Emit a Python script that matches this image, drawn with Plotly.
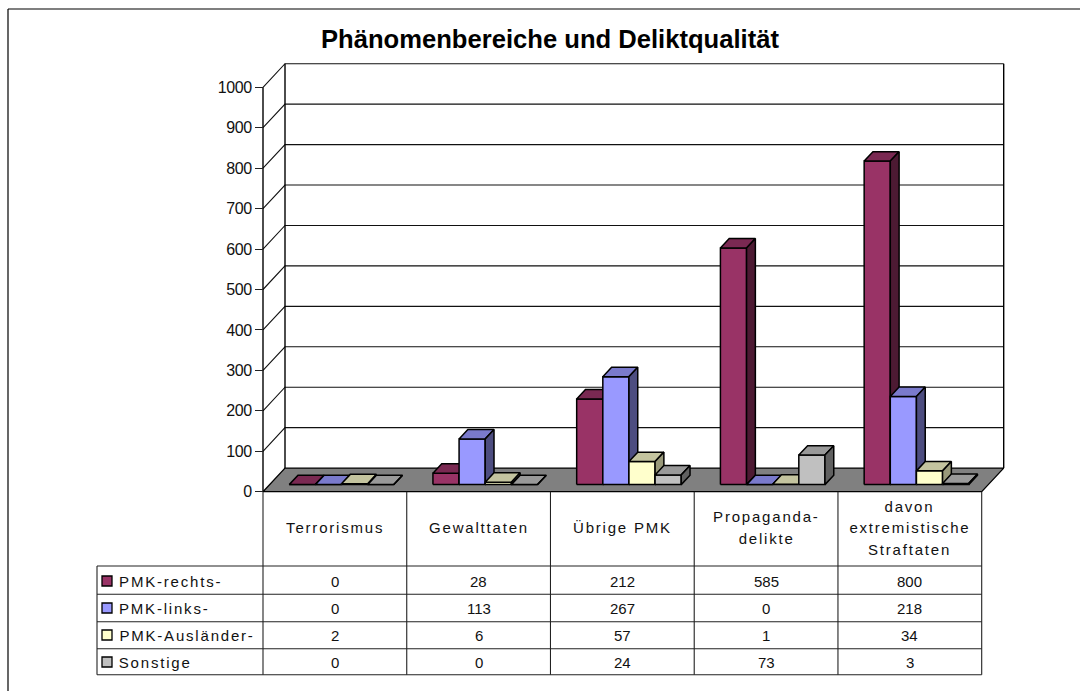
import plotly.graph_objects as go

# ---------- data ----------
categories = ["Terrorismus", "Gewalttaten", "Übrige PMK", "Propaganda-<br>delikte", "davon<br>extremistische<br>Straftaten"]
series_names = ["PMK-rechts-", "PMK-links-", "PMK-Ausländer-", "Sonstige"]
rechts = [0, 28, 212, 585, 800]
links = [0, 113, 267, 0, 218]
auslaender = [2, 6, 57, 1, 34]
sonstige = [0, 0, 24, 73, 3]
y_ticks = [0, 100, 200, 300, 400, 500, 600, 700, 800, 900, 1000]
title_text = "Phänomenbereiche und Deliktqualität"

series_values = [rechts, links, auslaender, sonstige]
front_colors = ["#993366", "#9999FF", "#FFFFCC", "#C0C0C0"]
top_colors = ["#7A2952", "#7A7ACC", "#C4C49F", "#999999"]
side_colors = ["#4D1A33", "#4D4D80", "#99997A", "#606060"]

# ---------- geometry of the page ----------
W, H = 1080, 691
X0, Y0 = 263.0, 491.7       # pixel of category 0, value 0
CAT_PX, VAL_PX = 143.74, 0.4044
DEPTH_X, DEPTH_Y = 22.0, 23.6
N = len(categories)
SPACING = 1.8

def project(cat, val, depth=0.0):
    return cat + depth * DEPTH_X / CAT_PX, val + depth * DEPTH_Y / VAL_PX

def px(x):
    return x / W

def py(y):
    return 1 - y / H

fig = go.Figure()

def poly(points, fill, name, line="#000000", width=1.5):
    xs = [p[0] for p in points] + [points[0][0]]
    ys = [p[1] for p in points] + [points[0][1]]
    fig.add_trace(go.Scatter(x=xs, y=ys, mode="lines", fill="toself", fillcolor=fill,
                             line=dict(color=line, width=width), name=name,
                             showlegend=False, hoverinfo="skip"))

def lines(segments, color, width, name):
    xs, ys = [], []
    for seg in segments:
        for p in seg:
            xs.append(p[0]); ys.append(p[1])
        xs.append(None); ys.append(None)
    fig.add_trace(go.Scatter(x=xs, y=ys, mode="lines", line=dict(color=color, width=width),
                             name=name, showlegend=False, hoverinfo="skip"))

# walls
top = y_ticks[-1]
lines([[project(0, v, 0), project(0, v, 1), project(N, v, 1)] for v in y_ticks[1:]], "#111111", 1.1, "grid")
lines([[project(0, 0, 0), project(0, top, 0)],
       [project(0, 0, 1), project(0, top, 1)],
       [project(N, 0, 1), project(N, top, 1)]], "#000000", 1.4, "walls")

# floor
poly([project(0, 0, 0), project(N, 0, 0), project(N, 0, 1), project(0, 0, 1)], "#808080", "floor", width=1.3)

# bars
D0, D1 = 0.30, 0.70
GAP = 1.5
BW = 1 / (len(series_values) + GAP)
for i in range(N):
    for j, vals in enumerate(series_values):
        v = vals[i]
        a = i + GAP / 2 * BW + j * BW
        b = a + BW
        nm = series_names[j]
        poly([project(a, 0, D0), project(b, 0, D0), project(b, v, D0), project(a, v, D0)], front_colors[j], nm)
        poly([project(a, v, D0), project(b, v, D0), project(b, v, D1), project(a, v, D1)], top_colors[j], nm)
        poly([project(b, 0, D0), project(b, 0, D1), project(b, v, D1), project(b, v, D0)], side_colors[j], nm)

# ---------- table ----------
TABLE_TOP = Y0
ROWS_Y = [566.0, 594.3, 621.7, 648.7, 674.7]
ROW_TEXT_Y = [581.0, 608.0, 635.0, 662.0]
LEFT = 97.0
col_x = [X0 + k * CAT_PX for k in range(N + 1)]
shapes = []

def seg(x0, y0, x1, y1, color="#222222", width=1.1):
    shapes.append(dict(type="line", xref="paper", yref="paper", x0=px(x0), y0=py(y0), x1=px(x1), y1=py(y1),
                       line=dict(color=color, width=width)))

for x in col_x:
    seg(x, TABLE_TOP, x, ROWS_Y[-1])
seg(LEFT, ROWS_Y[0], LEFT, ROWS_Y[-1])
for y in ROWS_Y:
    seg(LEFT, y, col_x[-1], y)
# outer frame
seg(8, 9, W, 9, "#000000", 1.2)
seg(8, 9, 8, H, "#000000", 1.2)

anns = []
FONT = dict(family="Liberation Sans, Arial, sans-serif", size=15, color="#111111")

def txt(x, y, s, anchor="center"):
    anns.append(dict(xref="paper", yref="paper", x=px(x), y=py(y), text=s, showarrow=False,
                     xanchor=anchor, yanchor="middle", font=FONT, align="center"))

LINE_H = 21.5
for k, cat in enumerate(categories):
    parts = cat.split("<br>")
    cx = (col_x[k] + col_x[k + 1]) / 2
    start = 527.5 - (len(parts) - 1) * LINE_H / 2
    for m, p in enumerate(parts):
        txt(cx, start + m * LINE_H, p)
for j, vals in enumerate(series_values):
    # letter spacing widens the text on both sides of its middle
    txt(118 + len(series_names[j]) * SPACING / 2 - 1, ROW_TEXT_Y[j], series_names[j], "left")
    for k, v in enumerate(vals):
        txt((col_x[k] + col_x[k + 1]) / 2, ROW_TEXT_Y[j], str(v))
    # legend key
    shapes.append(dict(type="rect", xref="paper", yref="paper", x0=px(102), x1=px(112),
                       y0=py(ROW_TEXT_Y[j] + 5), y1=py(ROW_TEXT_Y[j] - 5),
                       fillcolor=front_colors[j], line=dict(color="#000000", width=1.3)))

fig.update_layout(
    width=W, height=H, margin=dict(l=0, r=0, t=0, b=0),
    paper_bgcolor="#FFFFFF", plot_bgcolor="#FFFFFF", showlegend=False,
    title=dict(text="<b>" + title_text + "</b>", x=550 / W, xanchor="center", y=py(39), yanchor="middle",
               font=dict(family="Liberation Sans, Arial, sans-serif", size=25.6, color="#000000")),
    xaxis=dict(range=[-X0 / CAT_PX, (W - X0) / CAT_PX], visible=False, domain=[0, 1]),
    yaxis=dict(range=[(Y0 - H) / VAL_PX, Y0 / VAL_PX], domain=[0, 1], anchor="free", position=X0 / W,
               tickmode="array", tickvals=y_ticks, ticks="outside", ticklen=8, tickcolor="#222222", tickwidth=1,
               showline=False, showgrid=False, zeroline=False,
               tickfont=dict(family="Liberation Sans, Arial, sans-serif", size=16, color="#111111")),
    shapes=shapes, annotations=anns,
)

script = """
var s=document.createElement('style');
s.textContent='body{margin:0;overflow:hidden}.ytick text{letter-spacing:-0.4px}';
document.head.appendChild(s);
document.querySelectorAll('.annotation-text').forEach(function(t){
  if(isNaN(Number(t.textContent))){t.style.letterSpacing='%spx';}
});
""" % SPACING
fig.write_html("out.html", config={"displayModeBar": False}, post_script=script)
